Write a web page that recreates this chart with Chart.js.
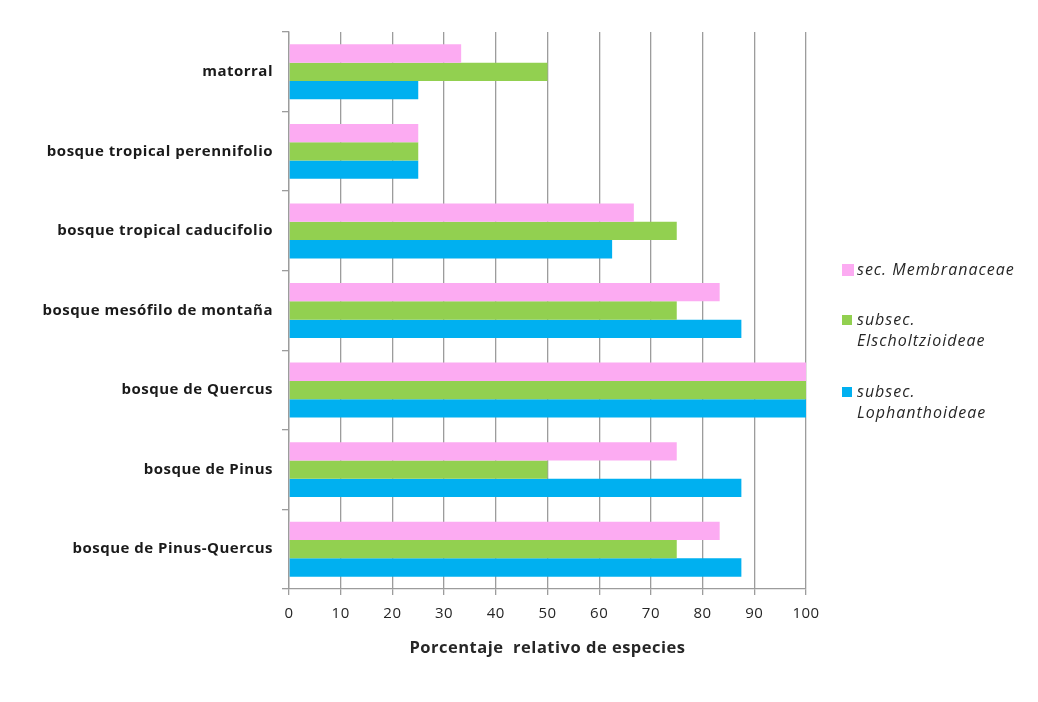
<!DOCTYPE html>
<html>
<head>
<meta charset="utf-8">
<script src="https://cdn.jsdelivr.net/npm/chart.js@4"></script>
<style>
  html, body { margin: 0; padding: 0; background: #fff; }
  #wrap { width: 1038px; height: 702px; position: relative; }
</style>
</head>
<body>
<div id="wrap"><canvas id="chart"></canvas></div>
<script>
// habitat categories, top to bottom
const categories = [
    'matorral',
    'bosque tropical perennifolio',
    'bosque tropical caducifolio',
    'bosque mesófilo de montaña',
    'bosque de Quercus',
    'bosque de Pinus',
    'bosque de Pinus-Quercus'
];

// percentages per series
const membranaceae = [33.3, 25, 66.7, 83.3, 100, 75, 83.3];
const elscholtzioideae = [50, 25, 75, 75, 100, 50, 75];
const lophanthoideae = [25, 25, 62.5, 87.5, 100, 87.5, 87.5];

const seriesNames = [
    ['sec. Membranaceae'],
    ['subsec.', 'Elscholtzioideae'],
    ['subsec.', 'Lophanthoideae']
];
const xTicks = [0, 10, 20, 30, 40, 50, 60, 70, 80, 90, 100];

const colors = ['#FCABF2', '#92D050', '#00B0F0'];
const gridColor = '#9c9c9c';

// a bit of letter spacing for all chart text
const spacing = {
    id: 'spacing',
    beforeDraw(chart) {
        if ('letterSpacing' in chart.ctx) chart.ctx.letterSpacing = '0.5px';
    }
};

// legend drawn at the right, with two-line labels
const sideLegend = {
    id: 'sideLegend',
    afterDraw(chart) {
        const ctx = chart.ctx;
        const x = 842;
        const rows = [270, 320, 392];
        ctx.save();
        ctx.font = 'italic 16px "Open Sans"';
        ctx.textBaseline = 'middle';
        if ('letterSpacing' in ctx) ctx.letterSpacing = '1px';
        chart.data.datasets.forEach((ds, i) => {
            const y = rows[i];
            const size = i === 0 ? 12 : 10;
            ctx.fillStyle = ds.backgroundColor;
            ctx.fillRect(x, y - size / 2, size, size);
            ctx.fillStyle = '#262626';
            seriesNames[i].forEach((line, j) => {
                ctx.fillText(line, x + 15, y + j * 21);
            });
        });
        ctx.restore();
    }
};

const ctx = document.getElementById('chart').getContext('2d');
new Chart(ctx, {
    type: 'bar',
    data: {
        labels: categories,
        datasets: [
            { label: seriesNames[0].join(' '), data: membranaceae, backgroundColor: colors[0] },
            { label: seriesNames[1].join(' '), data: elscholtzioideae, backgroundColor: colors[1] },
            { label: seriesNames[2].join(' '), data: lophanthoideae, backgroundColor: colors[2] }
        ]
    },
    options: {
        indexAxis: 'y',
        responsive: true,
        maintainAspectRatio: false,
        animation: false,
        layout: { padding: { top: 32, right: 232, bottom: 0, left: 0 } },
        datasets: {
            bar: { categoryPercentage: 0.69, barPercentage: 1.0, borderWidth: 0 }
        },
        plugins: {
            legend: { display: false },
            tooltip: { enabled: false }
        },
        scales: {
            x: {
                min: 0,
                max: 100,
                afterBuildTicks: (scale) => { scale.ticks = xTicks.map(v => ({ value: v })); },
                afterFit: (scale) => { scale.height = 113; },
                grid: { color: gridColor, lineWidth: 1.3, tickLength: 6, drawTicks: true },
                border: { color: gridColor, width: 1.3 },
                ticks: {
                    padding: 10,
                    color: '#262626',
                    font: { family: 'Open Sans', size: 15 }
                },
                title: {
                    display: true,
                    text: 'Porcentaje  relativo de especies',
                    color: '#262626',
                    font: { family: 'Open Sans', size: 16.5, weight: 'bold' },
                    padding: { top: 0, bottom: 44 }
                }
            },
            y: {
                afterFit: (scale) => { scale.width = 289; },
                grid: { drawOnChartArea: false, color: gridColor, lineWidth: 1.3, tickLength: 7 },
                border: { color: gridColor, width: 1.3 },
                ticks: {
                    padding: 9,
                    color: '#1a1a1a',
                    font: { family: 'Open Sans', size: 15, weight: 'bold' }
                }
            }
        }
    },
    plugins: [spacing, sideLegend]
});
</script>
</body>
</html>
